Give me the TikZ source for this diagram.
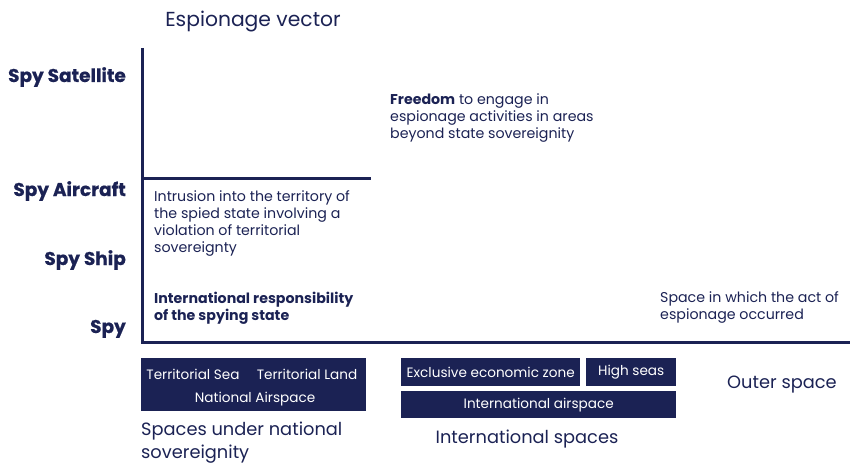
\documentclass[tikz,border=0pt]{standalone}
\usepackage{fontspec}
\setmainfont{Poppins}
\usetikzlibrary{positioning}
\definecolor{navy}{RGB}{27,34,84}

\tikzset{
  axis/.style={line width=3pt,navy},
  vlabel/.style={anchor=base east,font=\fontsize{18.5}{20}\selectfont\bfseries\addfontfeature{FakeBold=0.6},text=navy,inner sep=0pt},
  note/.style={anchor=base west,align=left,font=\fontsize{14.2}{17}\selectfont,text=navy,inner sep=0pt},
  zone/.style={fill=navy,text=white,font=\fontsize{13.6}{16}\selectfont,inner sep=0pt,anchor=north west},
  ztext/.style={text=white,font=\fontsize{13.6}{16}\selectfont,inner sep=0pt,anchor=base},
  caption/.style={font=\fontsize{17.8}{23}\selectfont,text=navy,inner sep=0pt,align=left}
}

\begin{document}
\begin{tikzpicture}[x=1pt,y=-1pt]
\useasboundingbox (0,0) rectangle (850,465);

% axes
\coordinate (top) at (142,48);
\coordinate (origin) at (142,342);
\coordinate (right) at (850,342);
\coordinate (split) at (142,178);
\coordinate (splitend) at (371,178);
\draw[axis] (top) -- (origin) -- (right);
\draw[axis] (split) -- (splitend);

\node[caption,anchor=base,font=\fontsize{20.3}{22}\selectfont] (title) at (253,27) {Espionage vector};

% vectors
\node[vlabel] (sat) at (126,82) {Spy Satellite};
\node[vlabel] (air) at (126,196) {Spy Aircraft};
\node[vlabel] (ship) at (126,265) {Spy Ship};
\node[vlabel] (spy) at (126,333) {Spy};

% regions (base = last line)
\node[note] (intrusion) at (154,252) {Intrusion into the territory of\\the spied state involving a\\violation of territorial\\sovereignty};
\node[note,font=\fontsize{14.2}{17}\selectfont\bfseries] (resp) at (154,320) {International responsibility\\of the spying state};
\node[note] (freedom) at (390,139) {\textbf{Freedom} to engage in\\espionage activities in areas\\beyond state sovereignity};
\node[note] (act) at (660,319) {Space in which the act of\\espionage occurred};

% spaces
\node[zone,minimum width=225pt,minimum height=53pt] (national) at (141,358) {};
\node[ztext] (sea) at (193,379) {Territorial Sea};
\node[ztext] (land) at (307,379) {Territorial Land};
\node[ztext] (natair) at (255,402) {National Airspace};
\node[zone,minimum width=179pt,minimum height=28pt] (eez) at (401,358) {Exclusive economic zone};
\node[zone,minimum width=90pt,minimum height=28pt] (high) at (586,358) {High seas};
\node[zone,minimum width=275pt,minimum height=27pt] (intair) at (401,391) {International airspace};
\node[caption,anchor=base west] (outer) at (727,388) {Outer space};

\node[caption,anchor=base west] (natcap) at (141,458) {Spaces under national\\sovereignity};
\node[caption,anchor=base] (intcap) at (527,443) {International spaces};
\end{tikzpicture}
\end{document}
